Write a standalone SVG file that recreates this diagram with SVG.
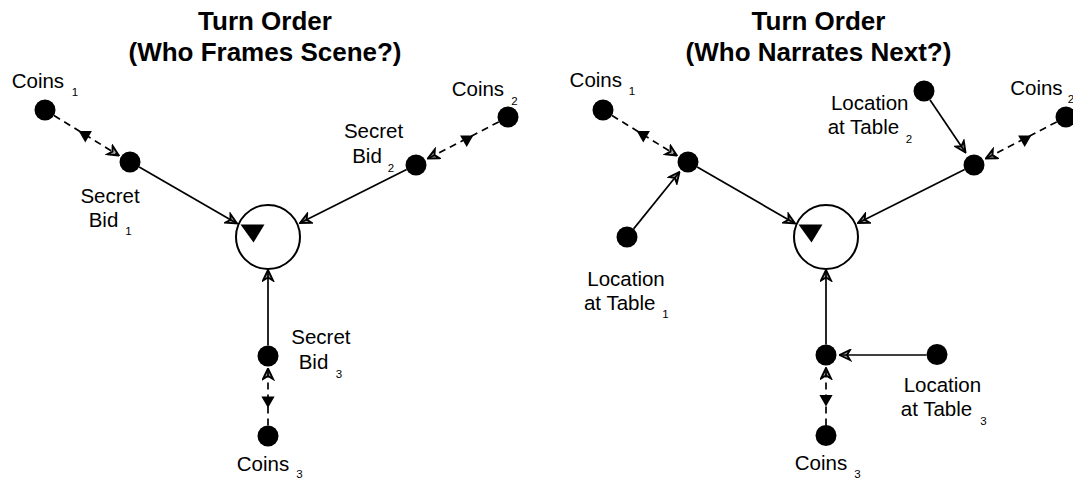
<svg xmlns="http://www.w3.org/2000/svg" width="1073" height="479" viewBox="0 0 1073 479">
<style>
text{font-family:"Liberation Sans",Arial,Helvetica,sans-serif;fill:#000}
.t{font-size:26px;font-weight:bold;text-anchor:middle}
.l{font-size:20.5px;text-anchor:middle}
.s{font-size:11.5px;text-anchor:middle}
.dot{fill:#000}
.ring{fill:#fff;stroke:#000;stroke-width:2}
.c{stroke:#000;stroke-width:1.7;fill:none;marker-end:url(#arr)}
.d{stroke-dasharray:7 5}
.tri{fill:#000}
</style>
<defs>
<marker id="arr" viewBox="0 0 13 13" refX="12" refY="6.5" markerWidth="13" markerHeight="13" orient="auto" markerUnits="userSpaceOnUse">
<path d="M1.5,1.5 L12,6.5 L1.5,11.5 L4.5,6.5 Z" fill="#000" fill-opacity="0.35" stroke="#000" stroke-width="1.9" stroke-linejoin="miter" stroke-dasharray="none"/>
</marker>
</defs>
<rect width="1073" height="479" fill="#fff"/>

<g id="title-left">
<text class="t" x="265" y="30">Turn Order</text>
<text class="t" x="265" y="61">(Who Frames Scene?)</text>
</g>
<g id="title-right">
<text class="t" x="818.5" y="30">Turn Order</text>
<text class="t" x="818.5" y="61">(Who Narrates Next?)</text>
</g>

<g id="connectors">
<line class="c d" x1="54" y1="115.5" x2="118.9" y2="155.5"/>
<line class="c" x1="139.2" y1="167" x2="237" y2="223.5"/>
<line class="c d" x1="498.7" y1="121.9" x2="427.8" y2="158.6"/>
<line class="c" x1="406.6" y1="169.6" x2="300" y2="223"/>
<line class="c" x1="268" y1="345.5" x2="268" y2="270"/>
<line class="c d" x1="268" y1="425.5" x2="268" y2="368.5"/>
<polygon class="tri" points="78.7,131 91.9,131 85.3,142.5"/>
<polygon class="tri" points="460.1,135.5 473.3,135.5 466.7,147"/>
<polygon class="tri" points="261.4,396.5 274.6,396.5 268,408"/>
<line class="c d" x1="612" y1="115.5" x2="676.9" y2="155.5"/>
<line class="c" x1="697.2" y1="167" x2="795" y2="223.5"/>
<line class="c d" x1="1056.7" y1="121.9" x2="985.8" y2="158.6"/>
<line class="c" x1="964.6" y1="169.6" x2="858" y2="223"/>
<line class="c" x1="826" y1="344.5" x2="826" y2="270"/>
<line class="c d" x1="826" y1="425.5" x2="826" y2="368"/>
<line class="c" x1="633.6" y1="228.9" x2="679.5" y2="172"/>
<line class="c" x1="929.9" y1="99.7" x2="965.5" y2="152.5"/>
<line class="c" x1="926.5" y1="355" x2="839.5" y2="355"/>
<polygon class="tri" points="636.7,131 649.9,131 643.3,142.5"/>
<polygon class="tri" points="1018.1,135.5 1031.3,135.5 1024.7,147"/>
<polygon class="tri" points="819.4,395 832.6,395 826,406.5"/>
</g>

<g id="turn-order-left">
<circle class="ring" cx="268" cy="237" r="32"/>
<polygon class="tri" points="240.5,224.5 264.5,224.5 253.5,242.5"/>
</g>
<g id="coins1-left">
<circle class="dot" cx="45" cy="110" r="10.5"/>
<text class="l" x="37.9" y="87.7">Coins</text><text class="s" x="75" y="96">1</text>
</g>
<g id="bid1-left">
<circle class="dot" cx="130" cy="162" r="10.5"/>
<text class="l" x="110" y="202.7">Secret</text><text class="l" x="103.5" y="226.7">Bid</text><text class="s" x="128.5" y="235">1</text>
</g>
<g id="coins2-left">
<circle class="dot" cx="508" cy="117" r="10.5"/>
<text class="l" x="477.9" y="96">Coins</text><text class="s" x="514.5" y="105">2</text>
</g>
<g id="bid2-left">
<circle class="dot" cx="416" cy="165" r="10.5"/>
<text class="l" x="373.5" y="138.3">Secret</text><text class="l" x="367" y="163.3">Bid</text><text class="s" x="391" y="171.7">2</text>
</g>
<g id="bid3-left">
<circle class="dot" cx="268" cy="356" r="10.5"/>
<text class="l" x="320.9" y="344.3">Secret</text><text class="l" x="313.5" y="369.3">Bid</text><text class="s" x="339" y="378.3">3</text>
</g>
<g id="coins3-left">
<circle class="dot" cx="268" cy="436" r="10.5"/>
<text class="l" x="263" y="470.7">Coins</text><text class="s" x="299.5" y="478.3">3</text>
</g>

<g id="turn-order-right">
<circle class="ring" cx="826" cy="237" r="32"/>
<polygon class="tri" points="798.5,224.5 822.5,224.5 811.5,242.5"/>
</g>
<g id="coins1-right">
<circle class="dot" cx="603" cy="110" r="10.5"/>
<text class="l" x="595.8" y="86.7">Coins</text><text class="s" x="632" y="95">1</text>
</g>
<g id="narrator1-right">
<circle class="dot" cx="688" cy="162" r="10.5"/>
</g>
<g id="location1-right">
<circle class="dot" cx="627" cy="237" r="10.5"/>
<text class="l" x="626" y="286">Location</text><text class="l" x="619.7" y="310">at Table</text><text class="s" x="665.5" y="318.3">1</text>
</g>
<g id="location2-right">
<circle class="dot" cx="924" cy="91" r="10.5"/>
<text class="l" x="869.7" y="110">Location</text><text class="l" x="863.4" y="134">at Table</text><text class="s" x="909" y="143.3">2</text>
</g>
<g id="coins2-right">
<circle class="dot" cx="1066" cy="117" r="10.5"/>
<text class="l" x="1036.4" y="95">Coins</text><text class="s" x="1071" y="103">2</text>
</g>
<g id="narrator2-right">
<circle class="dot" cx="974" cy="165" r="10.5"/>
</g>
<g id="narrator3-right">
<circle class="dot" cx="826" cy="355" r="10.5"/>
</g>
<g id="location3-right">
<circle class="dot" cx="937" cy="354.5" r="10.5"/>
<text class="l" x="942.4" y="391.7">Location</text><text class="l" x="936.5" y="416">at Table</text><text class="s" x="983.4" y="425">3</text>
</g>
<g id="coins3-right">
<circle class="dot" cx="826" cy="435.5" r="10.5"/>
<text class="l" x="821" y="470">Coins</text><text class="s" x="857.5" y="478.3">3</text>
</g>
</svg>
